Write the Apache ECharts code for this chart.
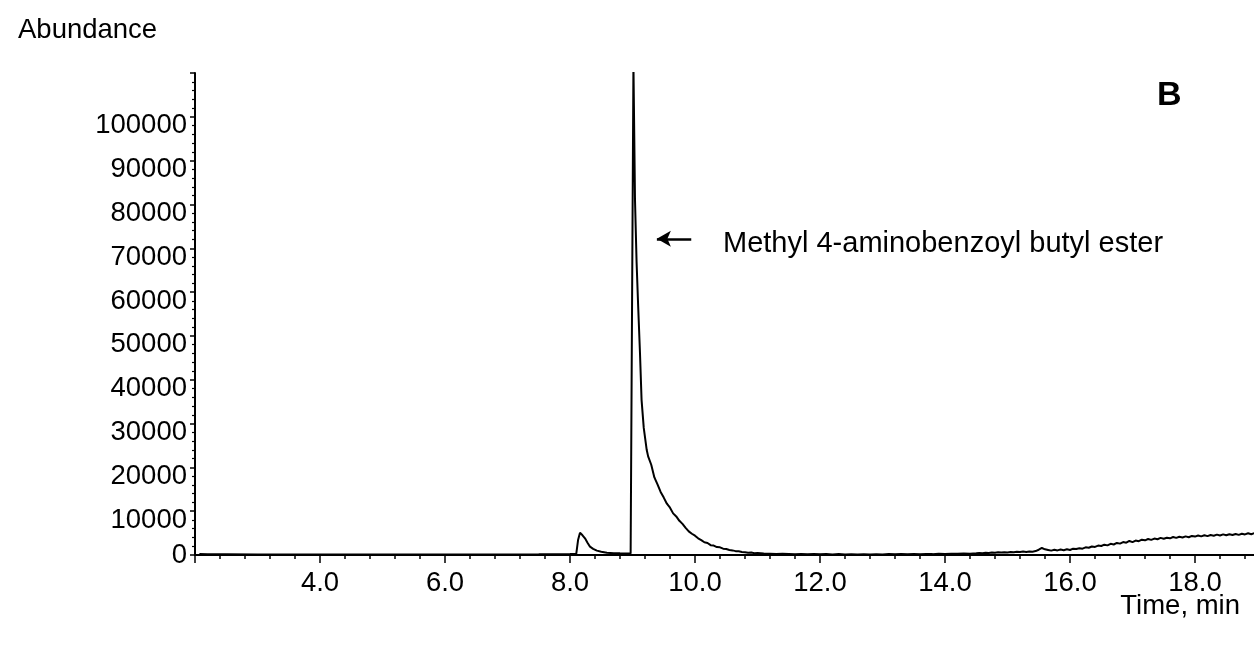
<!DOCTYPE html>
<html>
<head>
<meta charset="utf-8">
<title>Chromatogram B</title>
<script src="https://cdn.jsdelivr.net/npm/echarts@6/dist/echarts.min.js"></script>
<style>
  html, body { margin: 0; padding: 0; background: #fff; }
  #chart { width: 1254px; height: 647px; }
</style>
</head>
<body>
<div id="chart"></div>
<script>
// retention time (min)
var times = [
  // baseline + small peak
  2.07, 2.2, 2.5, 3.0, 3.5, 4.0, 4.5, 5.0, 5.5, 6.0, 6.5, 7.0, 7.5, 7.8, 8.0, 8.1,
  8.13, 8.16, 8.2, 8.24, 8.28, 8.32, 8.37, 8.43, 8.5, 8.59, 8.7, 8.8, 8.9, 8.97,
  // main peak
  8.98, 9.015, 9.04, 9.065, 9.09, 9.12, 9.145, 9.18, 9.227,
  9.25, 9.3, 9.35, 9.4, 9.45, 9.5, 9.55, 9.6, 9.65, 9.7, 9.75, 9.8, 9.85, 9.9, 9.95,
  10.0, 10.05, 10.1, 10.15, 10.2, 10.25, 10.3, 10.35, 10.4, 10.45, 10.5, 10.55, 10.6,
  10.65, 10.7, 10.75, 10.8, 10.85, 10.9, 10.95, 11.0, 11.1, 11.2, 11.3, 11.4,
  // flat part
  11.5, 11.6, 11.7, 11.8, 11.9, 12.0, 12.1, 12.2, 12.3, 12.4, 12.5, 12.6, 12.7, 12.8, 12.9,
  13.0, 13.1, 13.2, 13.3, 13.4, 13.5, 13.6, 13.7, 13.8, 13.9, 14.0, 14.1, 14.2, 14.3, 14.4,
  // rising drift
  14.5, 14.55, 14.6, 14.65, 14.7, 14.75, 14.8, 14.85, 14.9, 14.95,
  15.0, 15.05, 15.1, 15.15, 15.2, 15.25, 15.3, 15.35, 15.4, 15.45,
  15.5, 15.55, 15.6, 15.65, 15.7, 15.75, 15.8, 15.85, 15.9, 15.95,
  16.0, 16.05, 16.1, 16.15, 16.2, 16.25, 16.3, 16.35, 16.4, 16.45,
  16.5, 16.55, 16.6, 16.65, 16.7, 16.75, 16.8, 16.85, 16.9, 16.95,
  17.0, 17.05, 17.1, 17.15, 17.2, 17.25, 17.3, 17.35, 17.4, 17.45,
  17.5, 17.55, 17.6, 17.65, 17.7, 17.75, 17.8, 17.85, 17.9, 17.95,
  18.0, 18.05, 18.1, 18.15, 18.2, 18.25, 18.3, 18.35, 18.4, 18.45,
  18.5, 18.55, 18.6, 18.65, 18.7, 18.75, 18.8, 18.85, 18.9, 18.95, 19.0
];
// abundance (counts)
var abundance = [
  250, 180, 150, 120, 110, 100, 100, 100, 110, 110, 120, 130, 150, 180, 220, 260,
  3500, 5100, 4500, 3800, 2800, 1900, 1400, 1000, 750, 530, 420, 380, 350, 340,
  400, 112000, 81000, 67000, 57000, 46000, 35400, 29000, 24000,
  22500, 20600, 17700, 16100, 14400, 13100, 11700, 10800, 9500, 8800, 7800, 7100, 6200, 5400, 4850,
  4400, 3800, 3400, 2900, 2750, 2250, 2150, 1800, 1750, 1450, 1350, 1150, 1050,
  880, 850, 700, 640, 520, 560, 420, 430, 330, 300, 230, 260,
  230, 180, 240, 170, 220, 150, 210, 140, 200, 130, 190, 120, 180, 130, 190,
  140, 200, 150, 210, 160, 230, 180, 250, 200, 280, 230, 310, 260, 350, 300,
  380, 450, 400, 520, 470, 560, 500, 620, 560, 650,
  590, 700, 620, 740, 680, 780, 700, 820, 760, 900,
  1200, 1600, 1300, 1150, 1000, 1200, 1050, 1250, 1100, 1300,
  1150, 1450, 1350, 1550, 1450, 1750, 1650, 1950, 1850, 2150,
  2050, 2350, 2200, 2550, 2400, 2750, 2600, 2950, 2800, 3200,
  2950, 3300, 3150, 3500, 3350, 3650, 3450, 3750, 3600, 3900,
  3700, 3950, 3800, 4100, 3900, 4150, 4000, 4250, 4050, 4350,
  4200, 4450, 4250, 4500, 4300, 4550, 4400, 4650, 4450, 4700,
  4500, 4750, 4550, 4800, 4600, 4850, 4700, 4950, 4750, 5000, 4850
];
// axis ticks
var yMax = 110000;
var yStep = 10000;
var xMin = 2.0;
var xMax = 20.0;
var xStep = 2.0;

var peakLabel = 'Methyl 4-aminobenzoyl butyl ester';

var seriesData = times.map(function (t, i) { return [t, abundance[i]]; });

var font = "'Liberation Sans', Arial, sans-serif";

var chart = echarts.init(document.getElementById('chart'), null, { renderer: 'canvas' });

var option = {
  animation: false,
  backgroundColor: '#fff',
  grid: { left: 195, right: -66, top: 73, bottom: 92, outerBoundsMode: 'none', containLabel: false },
  xAxis: {
    type: 'value',
    min: xMin,
    max: xMax,
    interval: xStep,
    axisLine: { lineStyle: { color: '#000', width: 2 } },
    axisTick: { length: 8, lineStyle: { color: '#000', width: 1.5 } },
    minorTick: { show: true, splitNumber: 5, length: 4, lineStyle: { color: '#000', width: 1.5 } },
    splitLine: { show: false },
    axisLabel: {
      color: '#000', fontSize: 27.5, fontFamily: font, margin: 14,
      formatter: function (v) {
        if (v <= xMin || v >= xMax) return '';
        return v.toFixed(1);
      }
    }
  },
  yAxis: {
    type: 'value',
    min: 0,
    max: yMax,
    interval: yStep,
    axisLine: { show: true, lineStyle: { color: '#000', width: 2 } },
    axisTick: { show: true, length: 5, lineStyle: { color: '#000', width: 1.5 } },
    minorTick: { show: true, splitNumber: 5, length: 3, lineStyle: { color: '#000', width: 1.2 } },
    splitLine: { show: false },
    axisLabel: {
      color: '#000', fontSize: 27.5, fontFamily: font, margin: 8, lineHeight: 18,
      formatter: function (v) {
        if (v >= yMax) return '';
        if (v === 0) return '0';
        return '\n' + v;
      }
    }
  },
  series: [{
    type: 'line',
    data: seriesData,
    showSymbol: false,
    clip: true,
    lineStyle: { color: '#000', width: 2 },
    markLine: {
      silent: true,
      symbol: ['none', 'arrow'],
      symbolSize: [12, 14],
      label: { show: false },
      lineStyle: { color: '#000', width: 2.5, type: 'solid' },
      data: [[{ coord: [9.94, 72150] }, { coord: [9.39, 72150] }]]
    }
  }],
  graphic: [
    { type: 'text', left: 18, top: 16, style: { text: 'Abundance', font: '27.5px ' + font, fill: '#000' } },
    { type: 'text', right: 14, top: 592, style: { text: 'Time, min', font: '27.5px ' + font, fill: '#000' } },
    { type: 'text', left: 1157, top: 79, style: { text: 'B', font: 'bold 34px ' + font, fill: '#000' } },
    { type: 'text', left: 723, top: 229, style: { text: peakLabel, font: '29px ' + font, fill: '#000' } }
  ]
};

chart.setOption(option);
</script>
</body>
</html>
